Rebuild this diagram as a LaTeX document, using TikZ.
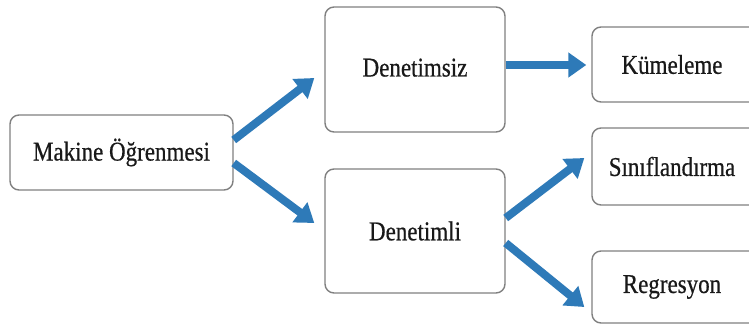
\documentclass[tikz,border=0pt]{standalone}
\usepackage{fontspec}
\setmainfont{Liberation Serif}[Ligatures=TeX]
\newfontfamily\tnrfont{Liberation Serif}[FakeBold=0.6]
\usetikzlibrary{arrows.meta,calc}
\definecolor{arrowblue}{RGB}{46,122,184}
\definecolor{boxgray}{RGB}{128,128,128}
\definecolor{txt}{RGB}{25,25,25}
\newcommand{\tallt}[1]{\scalebox{1}[1.18]{#1}}
\begin{document}
\begin{tikzpicture}[x=1pt,y=-1pt,
  box/.style={draw=boxgray,line width=1.4pt,rounded corners=9pt,fill=white,
    inner sep=0pt,text=txt,font=\tnrfont\fontsize{23}{27}\selectfont},
  flow/.style={draw=arrowblue,line width=8pt,
    -{Triangle[width=24pt,length=18pt]},arrowblue}]
\useasboundingbox (0,0) rectangle (749,327);
\clip (0,0) rectangle (749,327);
\node[box,minimum width=223pt,minimum height=75pt] (mak) at (121.5,152.5) {\tallt{Makine Öğrenmesi}};
\node[box,minimum width=180pt,minimum height=125pt] (den1) at (415,69.5) {\raisebox{4pt}{\tallt{Denetimsiz}}};
\node[box,minimum width=180pt,minimum height=124pt] (den2) at (415,231) {\raisebox{-5pt}{\tallt{Denetimli}}};
\node[box,minimum width=168pt,minimum height=75pt] (kum) at (676,64.5) {\hspace*{-8pt}\tallt{Kümeleme}};
\node[box,minimum width=168pt,minimum height=77pt] (sin) at (676,166.5) {\raisebox{-3pt}{\hspace*{-8pt}\tallt{Sınıflandırma}}};
\node[box,minimum width=168pt,minimum height=72pt] (reg) at (676,287) {\hspace*{-8pt}\tallt{Regresyon}};
\draw[flow] ($(mak.east)+(0,-12.5)$) -- ($(den1.west)+(-10,8.5)$);
\draw[flow] ($(mak.east)+(0,10.5)$) -- ($(den2.west)+(-10,-8)$);
\draw[flow] ($(den1.east)+(0,-4.5)$) -- ($(kum.west)+(-5,0.5)$);
\draw[flow] ($(den2.east)+(0,-13)$) -- ($(sin.west)+(-7,-8.5)$);
\draw[flow] ($(den2.east)+(0,12)$) -- ($(reg.west)+(-7,20)$);
\end{tikzpicture}
\end{document}
